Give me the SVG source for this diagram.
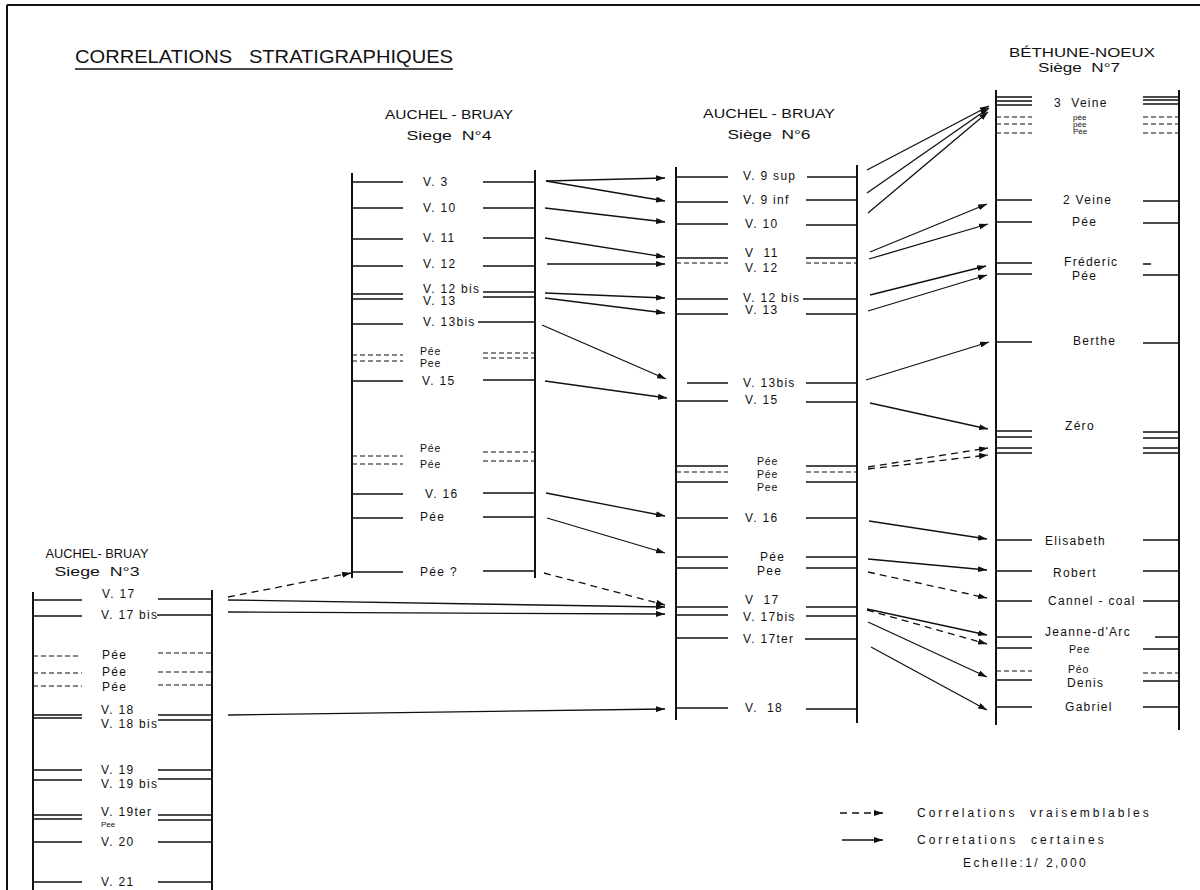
<svg xmlns="http://www.w3.org/2000/svg" width="1200" height="890" viewBox="0 0 1200 890">
<defs>
<marker id="ah" markerUnits="userSpaceOnUse" markerWidth="9" markerHeight="6" refX="9" refY="3" orient="auto">
<path d="M0,0 L9,3 L0,6 z" fill="#111"/>
</marker>
<style>
.t{font-family:"Liberation Sans",Arial,sans-serif;fill:#111}
.ttl{font-size:18px}
.hd{font-size:12px}
.lb{font-size:12px;letter-spacing:1.3px}
.sm{font-size:10.5px;letter-spacing:0.8px}
.xs{font-size:8px}
.v{stroke:#111;stroke-width:2;fill:none}
.h{stroke:#111;stroke-width:1.3;fill:none}
.d{stroke:#111;stroke-width:1.2;stroke-dasharray:5 3;fill:none}
.c{stroke:#111;stroke-width:1.3;fill:none;marker-end:url(#ah)}
.cd{stroke:#111;stroke-width:1.3;fill:none;stroke-dasharray:7 5;marker-end:url(#ah)}
</style>
</defs>
<rect width="1200" height="890" fill="#fff"/>
<g id="frame">
<path class="v" d="M7,5 H1200 M7,5 V890" stroke-width="1.6"/>
</g>
<g id="title">
<text class="t ttl" x="75" y="63" textLength="378" lengthAdjust="spacingAndGlyphs" xml:space="preserve">CORRELATIONS   STRATIGRAPHIQUES</text>
<path class="h" d="M75,69 H453"/>
</g>

<g id="siege4">
<text class="t hd" x="449" y="119" text-anchor="middle" textLength="128" lengthAdjust="spacingAndGlyphs">AUCHEL - BRUAY</text>
<text class="t hd" x="449" y="140" text-anchor="middle" textLength="85" lengthAdjust="spacingAndGlyphs" xml:space="preserve">Siege  N°4</text>
<path class="v" d="M352,173 V578 M535,170 V578"/>
<path class="h" d="M352,182 H403 M483,182 H535 M352,208 H403 M483,208 H535 M352,239 H403 M483,238 H535 M352,266 H403 M483,266 H535 M352,294 H403 M483,292 H535 M352,299 H403 M483,297 H535 M352,324 H403 M478,322 H535 M352,381 H403 M483,380 H535 M352,494 H403 M483,493 H535 M352,518 H403 M483,517 H535 M352,572 H403 M483,571 H535"/>
<path class="d" d="M352,355 H403 M483,353 H535 M352,361 H403 M483,358 H535 M352,456 H403 M483,452 H535 M352,464 H403 M483,461 H535"/>
<text class="t lb" x="423" y="186">V. 3</text>
<text class="t lb" x="423" y="212">V. 10</text>
<text class="t lb" x="423" y="242">V. 11</text>
<text class="t lb" x="423" y="268">V. 12</text>
<text class="t lb" x="423" y="293" font-size="11.5">V. 12 bis</text>
<text class="t lb" x="423" y="305" font-size="11">V. 13</text>
<text class="t lb" x="423" y="326">V. 13bis</text>
<text class="t sm" x="420" y="355">Pée</text>
<text class="t sm" x="420" y="367">Pee</text>
<text class="t lb" x="422" y="385">V. 15</text>
<text class="t sm" x="420" y="452">Pée</text>
<text class="t sm" x="420" y="468">Pée</text>
<text class="t lb" x="425" y="498">V. 16</text>
<text class="t lb" x="420" y="521">Pée</text>
<text class="t lb" x="420" y="576">Pée ?</text>
</g>

<g id="siege6">
<text class="t hd" x="769" y="118" text-anchor="middle" textLength="132" lengthAdjust="spacingAndGlyphs">AUCHEL - BRUAY</text>
<text class="t hd" x="769" y="139" text-anchor="middle" textLength="83" lengthAdjust="spacingAndGlyphs" xml:space="preserve">Siège  N°6</text>
<path class="v" d="M676,167 V720 M857,165 V723"/>
<path class="h" d="M676,177 H728 M807,177 H857 M676,202 H728 M806,200 H857 M676,224 H728 M806,225 H857 M676,258 H728 M806,258 H857 M676,299 H728 M803,299 H857 M676,314 H728 M806,314 H857 M687,383 H728 M806,383 H857 M676,401 H728 M806,402 H857 M676,466 H728 M806,466 H857 M676,482 H728 M806,482 H857 M676,518 H728 M806,518 H857 M676,557 H728 M806,557 H857 M676,568 H728 M806,568 H857 M676,607 H728 M806,607 H857 M676,615 H728 M806,616 H857 M676,638 H728 M805,639 H857 M676,708 H728 M806,709 H857"/>
<path class="d" d="M676,263 H728 M806,263 H857 M676,472 H728 M806,472 H857"/>
<text class="t lb" x="743" y="180">V. 9 sup</text>
<text class="t lb" x="743" y="204">V. 9 inf</text>
<text class="t lb" x="745" y="228">V. 10</text>
<text class="t lb" x="745" y="257" xml:space="preserve">V  11</text>
<text class="t lb" x="745" y="272">V. 12</text>
<text class="t lb" x="743" y="302">V. 12 bis</text>
<text class="t lb" x="745" y="314">V. 13</text>
<text class="t lb" x="743" y="387">V. 13bis</text>
<text class="t lb" x="745" y="404">V. 15</text>
<text class="t sm" x="757" y="465">Pée</text>
<text class="t sm" x="757" y="478">Pée</text>
<text class="t sm" x="757" y="491">Pee</text>
<text class="t lb" x="745" y="522">V. 16</text>
<text class="t lb" x="760" y="561">Pée</text>
<text class="t lb" x="757" y="575">Pee</text>
<text class="t lb" x="745" y="604" xml:space="preserve">V  17</text>
<text class="t lb" x="743" y="621">V. 17bis</text>
<text class="t lb" x="743" y="643">V. 17ter</text>
<text class="t lb" x="745" y="712" xml:space="preserve">V.  18</text>
</g>

<g id="siege7">
<text class="t hd" x="1082" y="57" text-anchor="middle" textLength="146" lengthAdjust="spacingAndGlyphs">BÉTHUNE-NOEUX</text>
<text class="t hd" x="1079" y="72" text-anchor="middle" textLength="82" lengthAdjust="spacingAndGlyphs" xml:space="preserve">Siège  N°7</text>
<path class="v" d="M996,90 V725 M1179,90 V730"/>
<path class="h" d="M996,97 H1032 M1143,97 H1179 M996,101 H1032 M1143,100 H1179 M996,105 H1032 M1143,104 H1179 M996,200 H1032 M1143,201 H1179 M996,222 H1032 M1143,223 H1179 M996,263 H1032 M1143,264 H1151 M996,274 H1032 M1143,275 H1179 M996,342 H1032 M1143,343 H1179 M996,431 H1032 M1143,432 H1179 M996,437 H1032 M1143,438 H1179 M996,448 H1032 M1143,448 H1179 M996,453 H1032 M1143,453 H1179 M996,540 H1032 M1143,540 H1179 M996,571 H1032 M1143,571 H1179 M996,601 H1032 M1143,601 H1179 M996,637 H1032 M1155,637 H1179 M996,648 H1032 M1143,649 H1179 M996,680 H1032 M1143,681 H1179 M996,707 H1032 M1143,707 H1179"/>
<path class="d" d="M996,117 H1032 M1143,117 H1179 M996,124 H1032 M1143,124 H1179 M996,133 H1032 M1143,133 H1179 M996,671 H1032 M1143,673 H1179"/>
<text class="t lb" x="1054" y="107" xml:space="preserve">3  Veine</text>
<text class="t xs" x="1073" y="120">pée</text>
<text class="t xs" x="1073" y="127">pée</text>
<text class="t xs" x="1073" y="134">Pée</text>
<text class="t lb" x="1063" y="204">2 Veine</text>
<text class="t lb" x="1072" y="226">Pée</text>
<text class="t lb" x="1064" y="266">Fréderic</text>
<text class="t lb" x="1072" y="280">Pée</text>
<text class="t lb" x="1073" y="345">Berthe</text>
<text class="t lb" x="1065" y="430">Zéro</text>
<text class="t lb" x="1045" y="545">Elisabeth</text>
<text class="t lb" x="1053" y="577">Robert</text>
<text class="t lb" x="1048" y="605">Cannel - coal</text>
<text class="t lb" x="1045" y="636">Jeanne-d'Arc</text>
<text class="t sm" x="1069" y="653">Pee</text>
<text class="t sm" x="1068" y="673">Péo</text>
<text class="t lb" x="1067" y="687">Denis</text>
<text class="t lb" x="1065" y="711">Gabriel</text>
</g>

<g id="siege3">
<text class="t hd" x="97" y="558" text-anchor="middle" textLength="103" lengthAdjust="spacingAndGlyphs">AUCHEL- BRUAY</text>
<text class="t hd" x="97" y="576" text-anchor="middle" textLength="85" lengthAdjust="spacingAndGlyphs" xml:space="preserve">Siege  N°3</text>
<path class="v" d="M33,592 V890 M212,590 V890"/>
<path class="h" d="M33,600 H82 M158,599 H212 M33,616 H82 M157,615 H212 M33,715 H82 M158,715 H212 M33,718 H82 M158,720 H212 M33,770 H82 M158,770 H212 M33,780 H82 M158,779 H212 M33,815 H82 M158,815 H212 M33,819 H82 M158,820 H212 M33,842 H82 M158,842 H212 M33,882 H82 M158,882 H212"/>
<path class="d" d="M33,656 H78 M158,653 H212 M33,673 H82 M158,672 H212 M33,686 H82 M158,685 H212"/>
<text class="t lb" x="102" y="598">V. 17</text>
<text class="t lb" x="101" y="619">V. 17 bis</text>
<text class="t lb" x="102" y="659">Pée</text>
<text class="t lb" x="102" y="676">Pée</text>
<text class="t lb" x="102" y="691">Pée</text>
<text class="t lb" x="101" y="714">V. 18</text>
<text class="t lb" x="101" y="728">V. 18 bis</text>
<text class="t lb" x="101" y="774">V. 19</text>
<text class="t lb" x="101" y="788">V. 19 bis</text>
<text class="t lb" x="101" y="816">V. 19ter</text>
<text class="t xs" x="101" y="827">Pee</text>
<text class="t lb" x="101" y="846">V. 20</text>
<text class="t lb" x="101" y="886">V. 21</text>
</g>

<g id="connectors">
<path class="c" d="M546,181 L665,178"/>
<path class="c" d="M546,181 L665,201"/>
<path class="c" d="M545,208 L665,222"/>
<path class="c" d="M545,238 L665,257"/>
<path class="c" d="M547,264 L665,264"/>
<path class="c" d="M545,293 L665,298"/>
<path class="c" d="M545,298 L665,313"/>
<path class="c" d="M542,325 L666,379"/>
<path class="c" d="M545,381 L667,398"/>
<path class="c" d="M546,493 L665,516"/>
<path class="c" d="M547,518 L665,553"/>
<path class="cd" d="M544,573 L665,605"/>
<path class="cd" d="M228,597 L351,573"/>
<path class="c" d="M228,600 L665,607"/>
<path class="c" d="M228,612 L665,614"/>
<path class="c" d="M228,715 L665,709"/>
<path class="c" d="M867,170 L989,106"/>
<path class="c" d="M867,193 L989,108"/>
<path class="c" d="M868,213 L988,112"/>
<path class="c" d="M870,252 L987,204"/>
<path class="c" d="M869,259 L988,224"/>
<path class="c" d="M870,295 L986,266"/>
<path class="c" d="M868,311 L987,275"/>
<path class="c" d="M866,380 L989,342"/>
<path class="c" d="M870,403 L988,429"/>
<path class="cd" d="M868,467 L988,448"/>
<path class="cd" d="M868,469 L988,455"/>
<path class="c" d="M869,521 L987,539"/>
<path class="c" d="M868,559 L987,570"/>
<path class="cd" d="M868,572 L987,598"/>
<path class="c" d="M867,609 L987,635"/>
<path class="cd" d="M867,610 L987,644"/>
<path class="c" d="M868,622 L987,677"/>
<path class="c" d="M871,647 L987,710"/>
</g>

<g id="legend">
<path class="cd" d="M840,813 L883,813" stroke-dasharray="5 4"/>
<text class="t lb" x="917" y="817" textLength="233" lengthAdjust="spacing" xml:space="preserve">Correlations  vraisemblables</text>
<path class="c" d="M842,840 L883,840"/>
<text class="t lb" x="917" y="844" textLength="188" lengthAdjust="spacing" xml:space="preserve">Corretations  certaines</text>
<text class="t lb" x="963" y="867" textLength="124" lengthAdjust="spacing">Echelle:1/ 2,000</text>
</g>
</svg>
